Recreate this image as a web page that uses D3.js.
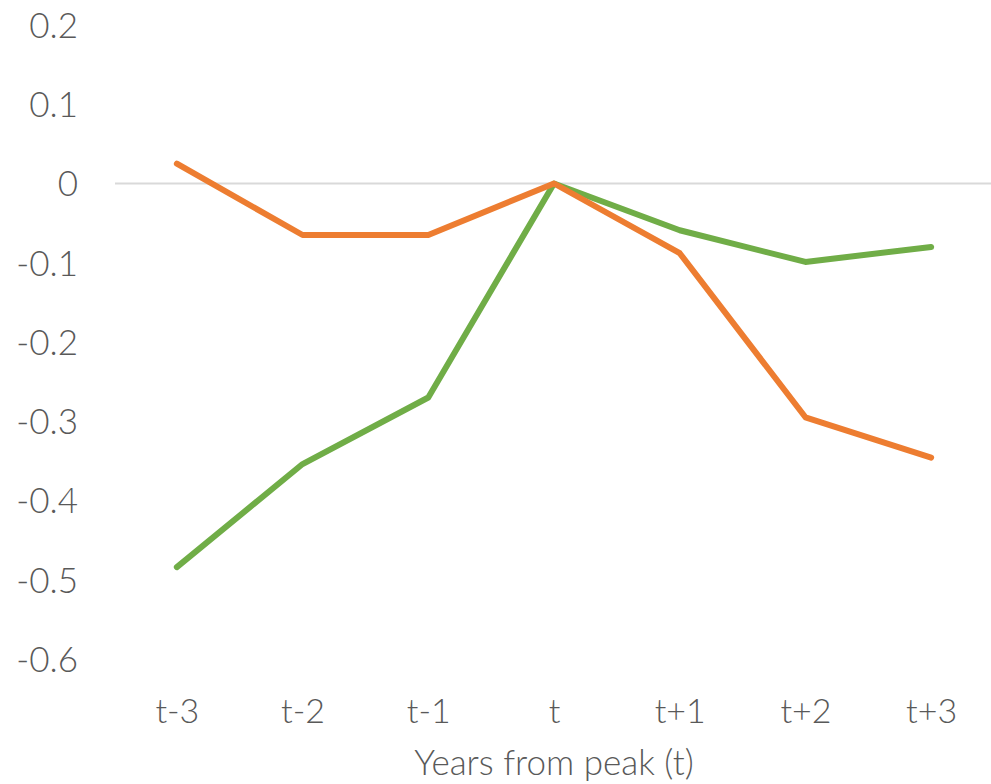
<!DOCTYPE html>
<html>
<head>
<meta charset="utf-8">
<script src="https://cdn.jsdelivr.net/npm/d3@7"></script>
<style>
  html, body { margin: 0; padding: 0; background: #ffffff; }
  svg { display: block; }
  text { font-family: Lato, "Open Sans", sans-serif; font-weight: 300; fill: #595959; }
</style>
</head>
<body>
<svg id="chart" width="991" height="784"></svg>
<script>
// Years relative to the peak year t
const categories = ["t-3", "t-2", "t-1", "t", "t+1", "t+2", "t+3"];
const orangeValues = [0.025, -0.065, -0.065, 0, -0.088, -0.295, -0.346];
const greenValues = [-0.484, -0.354, -0.27, 0, -0.059, -0.099, -0.08];
const yTicks = [0.2, 0.1, 0, -0.1, -0.2, -0.3, -0.4, -0.5, -0.6];
const xTitle = "Years from peak (t)";

const svg = d3.select("#chart");
const plotLeft = 114, plotRight = 994, plotTop = 25, plotBottom = 659;

const x = d3.scalePoint().domain(categories).range([plotLeft, plotRight]).padding(0.5);
const y = d3.scaleLinear().domain([-0.6, 0.2]).range([plotBottom, plotTop]);

// Y axis labels (no axis line, no ticks), plain hyphen for negatives
const fmt = d3.formatLocale({ decimal: ".", thousands: ",", grouping: [3], currency: ["", ""], minus: "-" }).format(".1f");
const yAxis = d3.axisLeft(y)
  .tickValues(yTicks)
  .tickSize(0)
  .tickPadding(0)
  .tickFormat(d => d === 0 ? "0" : fmt(d));
const gy = svg.append("g").attr("transform", "translate(78,0)").call(yAxis);
gy.select(".domain").remove();
gy.selectAll("text")
  .attr("font-size", 35)
  .attr("font-family", null)
  .attr("fill", "#595959")
  .attr("dy", "0.35em");

// Horizontal axis line at zero
svg.append("line")
  .attr("x1", plotLeft + 1).attr("x2", 991)
  .attr("y1", y(0)).attr("y2", y(0))
  .attr("stroke", "#d9d9d9").attr("stroke-width", 2);

// X axis category labels along the bottom
const xAxis = d3.axisBottom(x).tickSize(0).tickPadding(0);
const gx = svg.append("g").attr("transform", `translate(0,${plotBottom + 40})`).call(xAxis);
gx.select(".domain").remove();
gx.selectAll("text")
  .attr("font-size", 34)
  .attr("font-family", null)
  .attr("fill", "#595959")
  .attr("dy", "0.35em")
  .attr("y", 12);

// Axis title
svg.append("text")
  .attr("x", 554).attr("y", 763)
  .attr("text-anchor", "middle")
  .attr("dy", "0.35em")
  .attr("font-size", 35)
  .text(xTitle);

const line = d3.line()
  .x((d, i) => x(categories[i]))
  .y(d => y(d));

svg.append("path")
  .datum(greenValues)
  .attr("d", line)
  .attr("fill", "none")
  .attr("stroke", "#70ad47")
  .attr("stroke-width", 6)
  .attr("stroke-linecap", "round")
  .attr("stroke-linejoin", "round");

svg.append("path")
  .datum(orangeValues)
  .attr("d", line)
  .attr("fill", "none")
  .attr("stroke", "#ed7d31")
  .attr("stroke-width", 6)
  .attr("stroke-linecap", "round")
  .attr("stroke-linejoin", "round");
</script>
</body>
</html>
